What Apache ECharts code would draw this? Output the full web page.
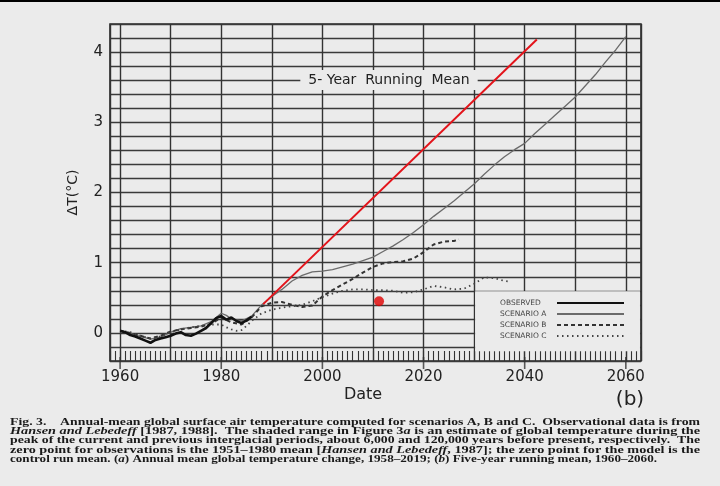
<!DOCTYPE html>
<html>
<head>
<meta charset="utf-8">
<script src="https://cdn.jsdelivr.net/npm/echarts@6/dist/echarts.min.js"></script>
<style>
  html, body { margin: 0; padding: 0; background: #ebebeb; }
  #chart { width: 720px; height: 486px; }
</style>
</head>
<body>
<div id="chart"></div>
<script>
// values (5-year running mean, deg C)
const observed = [
  [1960, 0.03], [1961, 0.01], [1962, -0.03], [1963, -0.05], [1964, -0.08], [1965, -0.11],
  [1966, -0.14], [1967, -0.10], [1968, -0.08], [1969, -0.06], [1970, -0.04], [1971, -0.01],
  [1972, 0.01], [1973, -0.03], [1974, -0.04], [1975, -0.01], [1976, 0.03], [1977, 0.07],
  [1978, 0.14], [1979, 0.21], [1980, 0.24], [1981, 0.19], [1982, 0.22], [1983, 0.17],
  [1984, 0.14], [1985, 0.18], [1986, 0.23]
];
const scenarioA = [
  [1960, 0.02], [1962, -0.01], [1964, -0.05], [1966, -0.09], [1968, -0.06], [1970, 0.01],
  [1972, 0.06], [1974, 0.08], [1976, 0.10], [1978, 0.16], [1980, 0.28], [1981, 0.25],
  [1982, 0.20], [1984, 0.17], [1986, 0.24], [1988, 0.40], [1990, 0.52], [1992, 0.62],
  [1994, 0.74], [1996, 0.82], [1998, 0.87], [2000, 0.88], [2002, 0.90], [2004, 0.94],
  [2006, 0.98], [2008, 1.03], [2010, 1.08], [2012, 1.16], [2014, 1.24], [2016, 1.33],
  [2018, 1.43], [2020, 1.54], [2022, 1.66], [2024, 1.77], [2026, 1.88], [2028, 2.00],
  [2030, 2.12], [2032, 2.26], [2034, 2.39], [2036, 2.51], [2038, 2.61], [2040, 2.70],
  [2042, 2.84], [2044, 2.97], [2046, 3.10], [2048, 3.23], [2050, 3.36], [2052, 3.52],
  [2054, 3.68], [2056, 3.86], [2058, 4.03], [2060, 4.22]
];
const scenarioB = [
  [1960, 0.03], [1962, 0.00], [1964, -0.04], [1966, -0.08], [1968, -0.04], [1970, 0.02],
  [1972, 0.05], [1974, 0.07], [1976, 0.09], [1978, 0.13], [1980, 0.22], [1982, 0.15],
  [1984, 0.12], [1986, 0.22], [1988, 0.38], [1990, 0.43], [1992, 0.44], [1994, 0.40],
  [1996, 0.37], [1998, 0.39], [2000, 0.52], [2002, 0.61], [2004, 0.69], [2006, 0.77],
  [2008, 0.86], [2010, 0.94], [2012, 0.99], [2014, 1.01], [2016, 1.02], [2018, 1.06],
  [2020, 1.15], [2022, 1.26], [2024, 1.30], [2026, 1.31], [2027, 1.33]
];
const scenarioC = [
  [1960, 0.03], [1962, 0.01], [1964, -0.04], [1966, -0.08], [1968, -0.05], [1970, 0.01],
  [1972, 0.05], [1974, 0.08], [1976, 0.10], [1978, 0.12], [1980, 0.12], [1981, 0.08],
  [1982, 0.05], [1983, 0.03], [1984, 0.04], [1985, 0.10], [1986, 0.17], [1988, 0.28],
  [1990, 0.33], [1992, 0.36], [1994, 0.38], [1996, 0.40], [1998, 0.45], [2000, 0.51],
  [2002, 0.56], [2004, 0.60], [2006, 0.62], [2008, 0.62], [2010, 0.61], [2012, 0.61],
  [2014, 0.60], [2016, 0.57], [2018, 0.58], [2020, 0.62], [2022, 0.67], [2024, 0.65],
  [2026, 0.62], [2028, 0.63], [2030, 0.70], [2032, 0.79], [2034, 0.78], [2036, 0.74],
  [2037, 0.73]
];
// red overlay
const trendLine = [[1988.3, 0.41], [2042.4, 4.18]];
const redDot = [[2011.2, 0.45]];

const bigTickYears = [1960, 1980, 2000, 2020, 2040, 2060];
const legendNames = ['OBSERVED', 'SCENARIO A', 'SCENARIO B', 'SCENARIO C'];
const legendBox = [[2030.2, -0.26], [2062.8, 0.595]];

const captionLines = [
  [['Fig. 3.    Annual-mean global surface air temperature computed for scenarios A, B and C.  Observational data is from', 0]],
  [['Hansen and Lebedeff', 1], [' [1987, 1988].  The shaded range in Figure 3', 0], ['a', 1], [' is an estimate of global temperature during the', 0]],
  [['peak of the current and previous interglacial periods, about 6,000 and 120,000 years before present, respectively.  The', 0]],
  [['zero point for observations is the 1951\u20131980 mean [', 0], ['Hansen and Lebedeff', 1], [', 1987]; the zero point for the model is the', 0]],
  [['control run mean. (', 0], ['a', 1], [') Annual mean global temperature change, 1958\u20132019; (', 0], ['b', 1], [') Five-year running mean, 1960\u20132060.', 0]]
];

const paper = '#ebebeb';
const ink = '#222';

// caption: measure each line and stretch it to the justified width
const measure = document.createElement('canvas').getContext('2d');
const capSize = 10.5;
function capFont(it) {
  return (it ? 'italic ' : '') + 'bold ' + capSize + 'px "Liberation Serif"';
}
const captionGraphics = captionLines.map(function (line, i) {
  let w = 0;
  let text = '';
  line.forEach(function (seg) {
    measure.font = capFont(seg[1]);
    w += measure.measureText(seg[0]).width;
    text += '{' + (seg[1] ? 'i' : 'n') + '|' + seg[0] + '}';
  });
  const target = i === captionLines.length - 1 ? 647 : 690;
  return {
    type: 'text',
    x: 10,
    y: 422 + i * 9.35,
    scaleX: target / w,
    z: 50,
    style: {
      text: text,
      verticalAlign: 'middle',
      rich: {
        n: { fontFamily: 'Liberation Serif', fontWeight: 'bold', fontSize: capSize, fill: '#1a1a1a' },
        i: { fontFamily: 'Liberation Serif', fontWeight: 'bold', fontStyle: 'italic', fontSize: capSize, fill: '#1a1a1a' }
      }
    }
  };
});

const chart = echarts.init(document.getElementById('chart'));

const option = {
  backgroundColor: paper,
  animation: false,
  grid: {
    left: 110, top: 24, width: 531, height: 337,
    show: true, borderColor: '#2a2a2a', borderWidth: 1.6, backgroundColor: 'transparent'
  },
  legend: {
    data: legendNames,
    orient: 'vertical',
    left: 500, top: 299,
    align: 'right',
    itemWidth: 67, itemHeight: 10, itemGap: 3,
    padding: 0,
    selectedMode: false,
    // line sample only, no marker in the middle
    itemStyle: { color: 'transparent', borderColor: 'transparent', borderWidth: 0, opacity: 0 },
    formatter: '{t|{name}}',
    textStyle: {
      rich: { t: { width: 52, align: 'left', fontSize: 7.5, color: '#444', fontFamily: 'DejaVu Sans' } }
    }
  },
  xAxis: [
    {
      // decade grid, labels every 20 years
      type: 'value', min: 1958, max: 2063, splitNumber: 10,
      position: 'bottom',
      axisLine: { show: false },
      axisTick: { show: false },
      axisLabel: {
        margin: 9, fontSize: 15, color: ink, fontFamily: 'DejaVu Sans',
        formatter: function (v) { return v % 20 === 0 ? String(v) : ''; }
      },
      splitLine: { show: true, lineStyle: { color: '#333', width: 1.4 } }
    },
    {
      // yearly minor ticks along the bottom
      type: 'value', min: 1958, max: 2063, interval: 1,
      position: 'bottom',
      axisLine: { show: false },
      axisLabel: { show: false },
      splitLine: { show: false },
      axisTick: { show: true, inside: true, length: 10, lineStyle: { color: '#333', width: 1.1 } }
    }
  ],
  yAxis: {
    type: 'value', min: -0.4, max: 4.4, interval: 0.2,
    name: '\u0394T(\u00b0C)',
    nameLocation: 'middle', nameRotate: 90, nameGap: 30,
    nameTextStyle: { fontSize: 14, color: ink, fontFamily: 'DejaVu Sans' },
    axisLine: { show: false },
    axisTick: { show: false },
    axisLabel: {
      margin: 7, fontSize: 15, color: ink, fontFamily: 'DejaVu Sans',
      formatter: function (v) {
        return Math.abs(v - Math.round(v)) < 1e-6 ? String(Math.round(v)) : '';
      }
    },
    splitLine: { show: true, lineStyle: { color: '#3a3a3a', width: 1.4 } }
  },
  graphic: [
    { type: 'rect', shape: { x: 0, y: 0, width: 720, height: 2 }, style: { fill: '#000' }, z: 50 },
    {
      type: 'text', x: 389, y: 80, z: 50,
      style: {
        text: '5- Year  Running  Mean', fontSize: 14, fontFamily: 'DejaVu Sans', fill: ink,
        align: 'center', verticalAlign: 'middle', backgroundColor: paper, padding: [3, 8]
      }
    },
    {
      type: 'text', x: 363, y: 395, z: 50,
      style: { text: 'Date', fontSize: 16, fontFamily: 'DejaVu Sans', fill: ink, align: 'center', verticalAlign: 'middle' }
    },
    {
      type: 'text', x: 630, y: 400, z: 50,
      style: { text: '(b)', fontSize: 20, fontFamily: 'DejaVu Sans', fill: ink, align: 'center', verticalAlign: 'middle' }
    }
  ].concat(captionGraphics),
  series: [
    {
      name: 'OBSERVED', type: 'line', data: observed, symbol: 'none', z: 6,
      itemStyle: { color: '#111' },
      lineStyle: { color: '#111', width: 2.6 },
      markArea: {
        silent: true,
        itemStyle: { color: paper },
        data: [[{ coord: legendBox[0] }, { coord: legendBox[1] }]]
      }
    },
    {
      name: 'SCENARIO A', type: 'line', data: scenarioA, symbol: 'none', z: 4,
      itemStyle: { color: '#6b6b6b' },
      lineStyle: { color: '#6b6b6b', width: 1.3 }
    },
    {
      name: 'SCENARIO B', type: 'line', data: scenarioB, symbol: 'none', z: 5,
      itemStyle: { color: '#333' },
      lineStyle: { color: '#333', width: 2, type: [4, 3] }
    },
    {
      name: 'SCENARIO C', type: 'line', data: scenarioC, symbol: 'none', z: 5,
      itemStyle: { color: '#444' },
      lineStyle: { color: '#444', width: 1.8, type: [1.5, 3.5] }
    },
    {
      name: 'trend', type: 'line', data: trendLine, symbol: 'none', z: 7,
      itemStyle: { color: '#e3141b' },
      lineStyle: { color: '#e3141b', width: 2 }
    },
    {
      name: 'point', type: 'scatter', data: redDot, symbolSize: 10, z: 7,
      itemStyle: { color: '#e00000' }
    },
    {
      name: 'ticks', type: 'scatter', data: bigTickYears.map(function (y) { return [y, -0.4]; }),
      symbol: 'rect', symbolSize: [1.6, 12], symbolOffset: [0, 2], clip: false, silent: true, z: 3,
      itemStyle: { color: '#333' }
    }
  ]
};

chart.setOption(option);
</script>
</body>
</html>
